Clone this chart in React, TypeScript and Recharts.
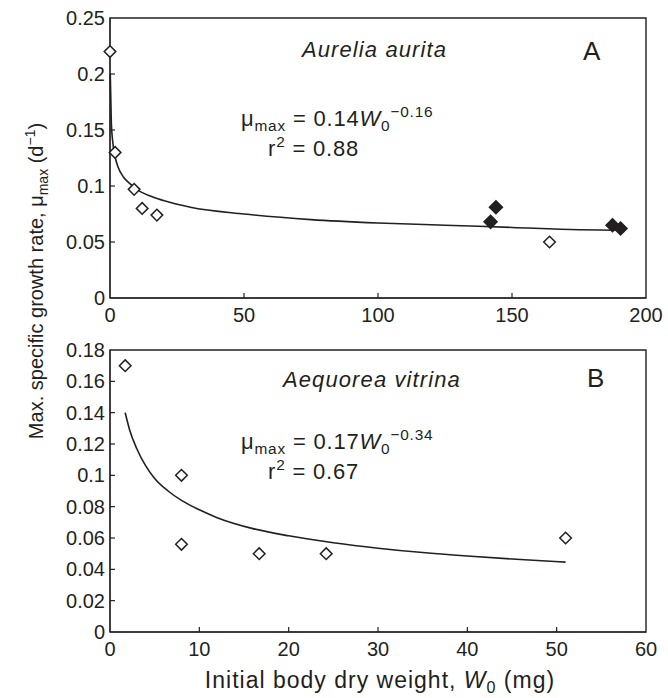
import React from 'react';
import { ComposedChart, Line, Scatter, XAxis, YAxis, ReferenceArea } from 'recharts';

const INK = '#231f20';
const FONT = '"Liberation Sans", Arial, Helvetica, sans-serif';

// Panel A: Aurelia aurita
const aureliaOpen = [
    { x: 0, y: 0.22 },
    { x: 1.9, y: 0.13 },
    { x: 9, y: 0.097 },
    { x: 12, y: 0.08 },
    { x: 17.5, y: 0.074 },
    { x: 164, y: 0.05 },
];
const aureliaFilled = [
    { x: 142, y: 0.068 },
    { x: 144, y: 0.081 },
    { x: 187.5, y: 0.065 },
    { x: 190.5, y: 0.062 },
];
const aureliaFit = [
    { x: 0.1, y: 0.2 }, { x: 0.5, y: 0.156 }, { x: 1, y: 0.14 }, { x: 2, y: 0.125 },
    { x: 3, y: 0.117 }, { x: 5, y: 0.108 }, { x: 7, y: 0.103 }, { x: 10, y: 0.097 },
    { x: 15, y: 0.091 }, { x: 20, y: 0.087 }, { x: 30, y: 0.081 }, { x: 50, y: 0.075 },
    { x: 75, y: 0.07 }, { x: 100, y: 0.067 }, { x: 125, y: 0.065 }, { x: 150, y: 0.063 },
    { x: 175, y: 0.061 }, { x: 190, y: 0.0605 },
];
const aureliaXTicks = [0, 50, 100, 150, 200];
const aureliaYTicks = [0, 0.05, 0.1, 0.15, 0.2, 0.25];

// Panel B: Aequorea vitrina
const aequoreaPoints = [
    { x: 1.7, y: 0.17 },
    { x: 8, y: 0.1 },
    { x: 8, y: 0.056 },
    { x: 16.7, y: 0.05 },
    { x: 24.2, y: 0.05 },
    { x: 51, y: 0.06 },
];
const aequoreaFit = [
    { x: 1.7, y: 0.14 }, { x: 2.2, y: 0.129 }, { x: 3, y: 0.117 }, { x: 4, y: 0.106 },
    { x: 5, y: 0.098 }, { x: 6.5, y: 0.09 }, { x: 8, y: 0.084 }, { x: 10, y: 0.078 },
    { x: 12, y: 0.073 }, { x: 16, y: 0.066 }, { x: 20, y: 0.0614 }, { x: 25, y: 0.057 },
    { x: 30, y: 0.0535 }, { x: 35, y: 0.0507 }, { x: 40, y: 0.0485 }, { x: 45, y: 0.0466 },
    { x: 51, y: 0.0446 },
];
const aequoreaXTicks = [0, 10, 20, 30, 40, 50, 60];
const aequoreaYTicks = [0, 0.02, 0.04, 0.06, 0.08, 0.1, 0.12, 0.14, 0.16, 0.18];

const Diamond = (props: any) => {
    const { cx, cy, filled } = props;
    const r = filled ? 6.5 : 5.8;
    return (
        <polygon
            points={`${cx},${cy - r} ${cx + r},${cy} ${cx},${cy + r} ${cx - r},${cy}`}
            fill={filled ? INK : '#fff'}
            stroke={INK}
            strokeWidth={1.5}
        />
    );
};

// ticks point inwards, so draw the mark ourselves next to the label
const makeXTick = (ends: number[]) => (props: any) => {
    const { x, y, payload } = props;
    const inner = !ends.includes(payload.value);
    return (
        <g>
            {inner && <line x1={x} x2={x} y1={y} y2={y - 5} stroke={INK} strokeWidth={1.2} />}
            <text x={x} y={y + 24} textAnchor="middle" fill={INK} fontSize={20} fontFamily={FONT}>
                {String(payload.value)}
            </text>
        </g>
    );
};

const makeYTick = (ends: number[]) => (props: any) => {
    const { x, y, payload } = props;
    const inner = !ends.includes(payload.value);
    return (
        <g>
            {inner && <line x1={x} x2={x + 5} y1={y} y2={y} stroke={INK} strokeWidth={1.2} />}
            <text x={x - 5} y={y + 7} textAnchor="end" fill={INK} fontSize={20} fontFamily={FONT}>
                {String(payload.value)}
            </text>
        </g>
    );
};

const Small = ({ dy, children, italic }: { dy: number; children: React.ReactNode; italic?: boolean }) => (
    <tspan dy={dy} fontSize="0.7em" fontStyle={italic ? 'italic' : undefined}>
        {children}
    </tspan>
);

const Equation = ({ x, y, coef, exp }: { x: number; y: number; coef: string; exp: string }) => (
    <text x={x} y={y} fontSize={22} letterSpacing={0.8} fill={INK} fontFamily={FONT}>
        μ<Small dy={5}>max</Small>
        <tspan dy={-5}>{` = ${coef}`}</tspan>
        <tspan fontStyle="italic">W</tspan>
        <Small dy={5}>0</Small>
        <Small dy={-14}>{exp}</Small>
    </text>
);

const RSquared = ({ x, y, value }: { x: number; y: number; value: string }) => (
    <text x={x} y={y} fontSize={22} letterSpacing={0.8} fill={INK} fontFamily={FONT}>
        r<Small dy={-9}>2</Small>
        <tspan dy={9}>{` = ${value}`}</tspan>
    </text>
);

const App: React.FC = () => {
    return (
        <div style={{ position: 'absolute', left: 0, top: 0, width: 668, height: 698, background: '#fff' }}>
            <div style={{ position: 'absolute', left: 0, top: 0 }}>
                <ComposedChart width={668} height={330} margin={{ top: 18, right: 22, left: 50, bottom: 2 }}>
                    <XAxis
                        type="number"
                        dataKey="x"
                        domain={[0, 200]}
                        ticks={aureliaXTicks}
                        height={30}
                        tickLine={false}
                        tickSize={0}
                        tickMargin={0}
                        stroke={INK}
                        tick={makeXTick([0, 200])}
                    />
                    <YAxis
                        type="number"
                        dataKey="y"
                        domain={[0, 0.25]}
                        ticks={aureliaYTicks}
                        width={60}
                        tickLine={false}
                        tickSize={0}
                        tickMargin={0}
                        stroke={INK}
                        tick={makeYTick([0, 0.25])}
                    />
                    <ReferenceArea x1={0} x2={200} y1={0} y2={0.25} fill="none" stroke={INK} strokeWidth={1.4} />
                    <Line data={aureliaFit} dataKey="y" type="monotone" dot={false} stroke={INK} strokeWidth={1.6} isAnimationActive={false} />
                    <Scatter data={aureliaOpen} dataKey="y" shape={(p: any) => <Diamond {...p} />} isAnimationActive={false} />
                    <Scatter data={aureliaFilled} dataKey="y" shape={(p: any) => <Diamond {...p} filled />} isAnimationActive={false} />
                </ComposedChart>
            </div>
            <div style={{ position: 'absolute', left: 0, top: 330 }}>
                <ComposedChart width={668} height={368} margin={{ top: 20, right: 22, left: 50, bottom: 36 }}>
                    <XAxis
                        type="number"
                        dataKey="x"
                        domain={[0, 60]}
                        ticks={aequoreaXTicks}
                        height={30}
                        tickLine={false}
                        tickSize={0}
                        tickMargin={0}
                        stroke={INK}
                        tick={makeXTick([0, 60])}
                    />
                    <YAxis
                        type="number"
                        dataKey="y"
                        domain={[0, 0.18]}
                        ticks={aequoreaYTicks}
                        width={60}
                        tickLine={false}
                        tickSize={0}
                        tickMargin={0}
                        stroke={INK}
                        tick={makeYTick([0, 0.18])}
                    />
                    <ReferenceArea x1={0} x2={60} y1={0} y2={0.18} fill="none" stroke={INK} strokeWidth={1.4} />
                    <Line data={aequoreaFit} dataKey="y" type="monotone" dot={false} stroke={INK} strokeWidth={1.6} isAnimationActive={false} />
                    <Scatter data={aequoreaPoints} dataKey="y" shape={(p: any) => <Diamond {...p} />} isAnimationActive={false} />
                </ComposedChart>
            </div>

            {/* annotations and axis titles */}
            <svg width={668} height={698} style={{ position: 'absolute', left: 0, top: 0, pointerEvents: 'none' }}>
                <text x={302} y={57} fontSize={22} fontStyle="italic" letterSpacing={1.1} fill={INK} fontFamily={FONT}>
                    Aurelia aurita
                </text>
                <text x={583} y={60} fontSize={26} letterSpacing={0} fill={INK} fontFamily={FONT}>A</text>
                <Equation x={241} y={126} coef="0.14" exp="−0.16" />
                <RSquared x={268} y={156} value="0.88" />

                <text x={283} y={387} fontSize={22} fontStyle="italic" letterSpacing={1.1} fill={INK} fontFamily={FONT}>
                    Aequorea vitrina
                </text>
                <text x={587} y={387} fontSize={26} fill={INK} fontFamily={FONT}>B</text>
                <Equation x={241} y={449} coef="0.17" exp="−0.34" />
                <RSquared x={268} y={479} value="0.67" />

                <text x={380} y={688} textAnchor="middle" fontSize={23} letterSpacing={1} fill={INK} fontFamily={FONT}>
                    Initial body dry weight, <tspan fontStyle="italic">W</tspan>
                    <Small dy={5}>0</Small>
                    <tspan dy={-5}> (mg)</tspan>
                </text>
                <text
                    x={0}
                    y={0}
                    transform="translate(43 281) rotate(-90)"
                    textAnchor="middle"
                    fontSize={20}
                    fill={INK}
                    fontFamily={FONT}
                >
                    Max. specific growth rate, μ<Small dy={5}>max</Small>
                    <tspan dy={-5}> (d</tspan>
                    <Small dy={-8}>−1</Small>
                    <tspan dy={8}>)</tspan>
                </text>
            </svg>
        </div>
    );
};

export default App;
